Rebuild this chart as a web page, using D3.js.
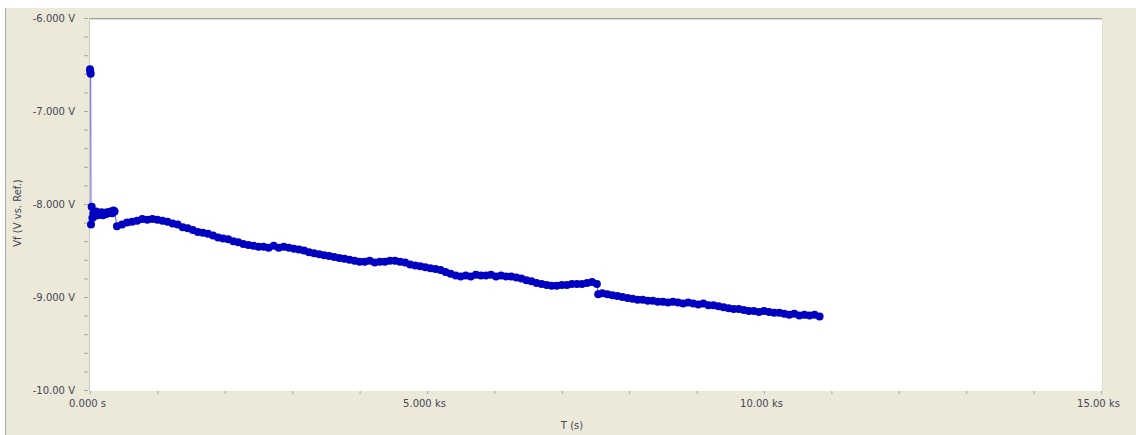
<!DOCTYPE html>
<html>
<head>
<meta charset="utf-8">
<script src="https://cdn.jsdelivr.net/npm/d3@7"></script>
<style>
  body { margin: 0; background: #fff; }
  svg { display: block; }
  text { font-family: "DejaVu Sans", sans-serif; font-size: 10px; fill: #45455a; }
</style>
</head>
<body>
<svg id="chart" width="1136" height="435"></svg>
<script>
// time (s) and Vf (V vs. Ref.)
const times = [
  0, 5, 10, 15, 25, 35, 50, 70, 90, 110, 130, 150, 170, 190, 210, 230, 250, 270, 290, 310, 330, 350, 365,
  400, 475, 550, 625, 700, 775, 850, 925, 1000, 1075, 1150, 1225, 1300, 1375, 1450, 1525, 1600, 1675,
  1750, 1825, 1900, 1975, 2050, 2125, 2200, 2275, 2350, 2425, 2500, 2575, 2650, 2725, 2800, 2875, 2950,
  3025, 3100, 3175, 3250, 3325, 3400, 3475, 3550, 3625, 3700, 3775, 3850, 3925, 4000, 4075, 4150, 4225,
  4300, 4375, 4450, 4525, 4600, 4675, 4750, 4825, 4900, 4975, 5050, 5125, 5200, 5275, 5350, 5425, 5500,
  5575, 5650, 5725, 5800, 5875, 5950, 6025, 6100, 6175, 6250, 6325, 6400, 6475, 6550, 6625, 6700, 6775,
  6850, 6925, 7000, 7075, 7150, 7225, 7300, 7375, 7450, 7520, 7540, 7600, 7675, 7750, 7825, 7900, 7975,
  8050, 8125, 8200, 8275, 8350, 8425, 8500, 8575, 8650, 8725, 8800, 8875, 8950, 9025, 9100, 9175, 9250,
  9325, 9400, 9475, 9550, 9625, 9700, 9775, 9850, 9925, 10000, 10075, 10150, 10225, 10300, 10375, 10450,
  10525, 10600, 10675, 10750, 10825
];
const volts = [
  -6.55, -6.58, -6.60, -8.22, -8.03, -8.15, -8.10, -8.13, -8.08, -8.12, -8.10, -8.11, -8.09, -8.12, -8.10, -8.11, -8.09, -8.10, -8.09, -8.08, -8.10, -8.07, -8.08,
  -8.24, -8.22, -8.20, -8.19, -8.18, -8.16, -8.17, -8.16, -8.17, -8.18, -8.19, -8.21, -8.22, -8.25, -8.26, -8.28, -8.30, -8.31,
  -8.32, -8.34, -8.36, -8.37, -8.38, -8.40, -8.41, -8.43, -8.44, -8.45, -8.46, -8.46, -8.47, -8.45, -8.47, -8.46, -8.47,
  -8.48, -8.49, -8.50, -8.52, -8.53, -8.54, -8.55, -8.56, -8.57, -8.58, -8.59, -8.60, -8.61, -8.62, -8.62, -8.61, -8.63,
  -8.62, -8.62, -8.61, -8.61, -8.62, -8.63, -8.65, -8.66, -8.67, -8.68, -8.69, -8.70, -8.71, -8.73, -8.75, -8.77, -8.78,
  -8.77, -8.78, -8.76, -8.77, -8.77, -8.76, -8.78, -8.77, -8.78, -8.78, -8.79, -8.80, -8.82, -8.83, -8.85, -8.86, -8.87,
  -8.88, -8.88, -8.87, -8.87, -8.86, -8.86, -8.86, -8.85, -8.84, -8.86, -8.97, -8.96, -8.97, -8.98, -8.99, -9.00, -9.01,
  -9.02, -9.03, -9.03, -9.04, -9.04, -9.05, -9.05, -9.06, -9.05, -9.06, -9.07, -9.06, -9.07, -9.08, -9.07, -9.09, -9.09,
  -9.10, -9.11, -9.12, -9.13, -9.13, -9.14, -9.15, -9.15, -9.16, -9.15, -9.16, -9.17, -9.17, -9.18, -9.19, -9.18,
  -9.20, -9.19, -9.20, -9.19, -9.21
];

const yMajor = [-6, -7, -8, -9, -10];
const yLabels = ["-6.000 V", "-7.000 V", "-8.000 V", "-9.000 V", "-10.00 V"];
const yMinor = [-6, -6.2, -6.4, -6.6, -6.8, -7, -7.2, -7.4, -7.6, -7.8, -8, -8.2, -8.4, -8.6, -8.8, -9, -9.2, -9.4, -9.6, -9.8, -10];
const xMajor = [0, 5000, 10000, 15000];
const xLabels = ["0.000 s", "5.000 ks", "10.00 ks", "15.00 ks"];
const xMinor = [0, 1000, 2000, 3000, 4000, 5000, 6000, 7000, 8000, 9000, 10000, 11000, 12000, 13000, 14000, 15000];

const data = times.map((t, i) => ({ t: t, v: volts[i] }));

const svg = d3.select('#chart');

// panel background
svg.append('rect').attr('x', 5).attr('y', 8).attr('width', 1131).attr('height', 427).attr('fill', '#ece9d8');
svg.append('line').attr('x1', 5.5).attr('x2', 5.5).attr('y1', 8).attr('y2', 435).attr('stroke', '#a8a8a8');

const x = d3.scaleLinear().domain([0, 15000]).range([90, 1101]);
const y = d3.scaleLinear().domain([-10, -6]).range([390, 18]);

// plot area
svg.append('rect').attr('x', 89).attr('y', 18).attr('width', 1013).attr('height', 373).attr('fill', '#fff');
svg.append('line').attr('x1', 89).attr('x2', 1102).attr('y1', 18.5).attr('y2', 18.5).attr('stroke', '#a0a0a0');
svg.append('line').attr('x1', 89).attr('x2', 1102).attr('y1', 19.5).attr('y2', 19.5).attr('stroke', '#dcdcdc');
svg.append('line').attr('x1', 1102.5).attr('x2', 1102.5).attr('y1', 18).attr('y2', 391).attr('stroke', '#e0ddd0');
svg.append('line').attr('x1', 89.5).attr('x2', 89.5).attr('y1', 18).attr('y2', 391).attr('stroke', '#c8c8c8');

// y axis
const yAxis = d3.axisLeft(y)
  .tickValues(yMinor)
  .tickSize(4)
  .tickPadding(10)
  .tickFormat(d => {
    const i = yMajor.findIndex(m => Math.abs(m - d) < 1e-6);
    return i >= 0 ? yLabels[i] : '';
  });
const gy = svg.append('g').attr('transform', 'translate(88,0)').call(yAxis);
gy.select('.domain').remove();
gy.selectAll('line').attr('stroke', '#a8a8a8');
gy.selectAll('text').attr('x', -13);

// x axis
const xAxis = d3.axisBottom(x)
  .tickValues(xMinor)
  .tickSize(3)
  .tickPadding(6)
  .tickFormat(d => {
    const i = xMajor.indexOf(d);
    return i >= 0 ? xLabels[i] : '';
  });
const gx = svg.append('g').attr('transform', 'translate(0,391)').call(xAxis);
gx.select('.domain').remove();
gx.selectAll('line').attr('stroke', '#a8a8a8');
gx.selectAll('text').attr('dx', -3);

// axis titles
svg.append('text').attr('x', 572).attr('y', 429).attr('text-anchor', 'middle').text('T (s)');
svg.append('text')
  .attr('transform', 'translate(21,213) rotate(-90)')
  .attr('text-anchor', 'middle')
  .text('Vf (V vs. Ref.)');

// series
const line = d3.line().x(d => x(d.t)).y(d => y(d.v));
svg.append('path')
  .datum(data)
  .attr('d', line)
  .attr('fill', 'none')
  .attr('stroke', '#5a5ae6')
  .attr('stroke-width', 1);

svg.append('g').selectAll('circle')
  .data(data)
  .enter()
  .append('circle')
  .attr('cx', d => x(d.t))
  .attr('cy', d => y(d.v))
  .attr('r', 4)
  .attr('fill', '#0000c0');
</script>
</body>
</html>
